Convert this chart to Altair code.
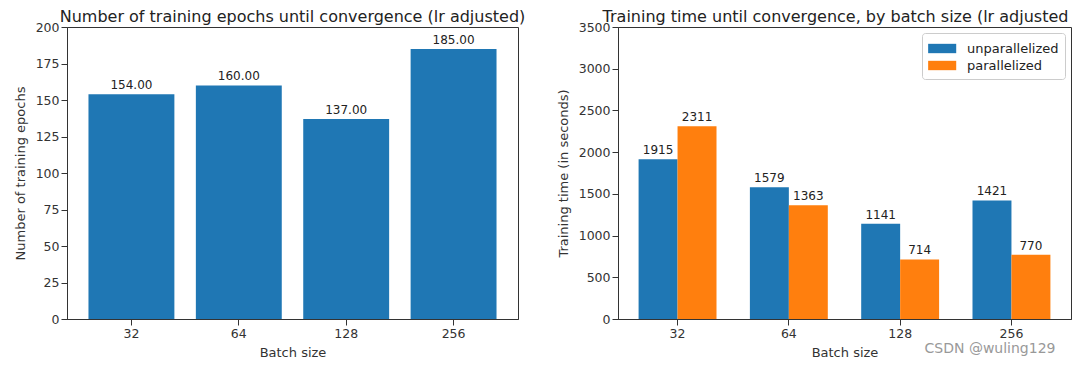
import altair as alt
import pandas as pd

batch = ["32", "64", "128", "256"]
epochs = [154, 160, 137, 185]
series = ["unparallelized", "parallelized"]
unpar_time = [1915, 1579, 1141, 1421]
par_time = [2311, 1363, 714, 770]
colors = ["#1f77b4", "#ff7f0e"]
epoch_ticks = [0, 25, 50, 75, 100, 125, 150, 175, 200]
time_ticks = [0, 500, 1000, 1500, 2000, 2500, 3000, 3500]

df1 = pd.DataFrame({"batch": batch, "epochs": epochs})
rows = []
for b, u, p in zip(batch, unpar_time, par_time):
    rows.append({"batch": b, "series": series[0], "value": u})
    rows.append({"batch": b, "series": series[1], "value": p})
df2 = pd.DataFrame(rows)

FONT = "DejaVu Sans"
ax_common = dict(labelAngle=0, tickSize=6, labelPadding=2, grid=False,
                 labelFontSize=12.5, titleFontSize=13, titleFontWeight="normal")

base1 = alt.Chart(df1).encode(
    x=alt.X("batch:N", sort=batch,
            scale=alt.Scale(paddingInner=0.2, paddingOuter=0.2),
            axis=alt.Axis(title="Batch size", titlePadding=7, **ax_common)),
    y=alt.Y("epochs:Q", scale=alt.Scale(domain=[0, 200], nice=False),
            axis=alt.Axis(title="Number of training epochs", values=epoch_ticks,
                          format="d", titlePadding=8, **ax_common)),
)
bars1 = base1.mark_bar(color=colors[0])
text1 = base1.mark_text(dy=-9, fontSize=12, color="#222", font=FONT).encode(
    text=alt.Text("epochs:Q", format=".2f"))
left = alt.layer(bars1, text1).properties(
    width=451, height=292,
    title=alt.TitleParams("Number of training epochs until convergence (lr adjusted)",
                          fontSize=16, fontWeight="normal", offset=-4, color="#222"))

base2 = alt.Chart(df2).encode(
    x=alt.X("batch:N", sort=batch,
            scale=alt.Scale(paddingInner=0.3, paddingOuter=0.185),
            axis=alt.Axis(title="Batch size", titlePadding=7, **ax_common)),
    xOffset=alt.XOffset("series:N", sort=series,
                        scale=alt.Scale(domain=series, paddingInner=0, paddingOuter=0)),
    y=alt.Y("value:Q", scale=alt.Scale(domain=[0, 3500], nice=False),
            axis=alt.Axis(title="Training time (in seconds)", values=time_ticks,
                          format="d", titlePadding=8, **ax_common)),
)
bars2 = base2.mark_bar().encode(
    color=alt.Color("series:N", sort=series,
                    scale=alt.Scale(domain=series, range=colors),
                    legend=alt.Legend(title=None, orient="top-right", offset=6,
                                      fillColor="white", strokeColor="#ccc",
                                      cornerRadius=3, padding=6,
                                      symbolType="M-1,-0.5H2V0.5H-1Z",
                                      symbolSize=350, symbolStrokeWidth=0,
                                      labelFontSize=13, labelColor="#222",
                                      rowPadding=0, labelOffset=20)))
text2 = base2.mark_text(dy=-9, fontSize=12, color="#222", font=FONT).encode(
    text=alt.Text("value:Q", format="d"))
mark_wm = alt.Chart(pd.DataFrame({"t": ["CSDN @wuling129"]})).mark_text(
    fontSize=14, color="#999", font=FONT, align="center").encode(
    text="t:N", x=alt.value(372), y=alt.value(322))
right = alt.layer(bars2, text2, mark_wm).properties(
    width=453, height=292,
    title=alt.TitleParams("Training time until convergence, by batch size (lr adjusted",
                          fontSize=16, fontWeight="normal", offset=-4, dx=-9, color="#222"))

chart = alt.hconcat(left, right, spacing=30).resolve_scale(
    color="independent"
).resolve_legend(color="independent").properties(
    padding={"left": 5, "top": 0, "right": 0, "bottom": 0}
).configure(font=FONT).configure_view(
    stroke="#333", strokeWidth=1
).configure_axis(
    domainColor="#333", tickColor="#333", labelColor="#333", titleColor="#333",
    labelFont=FONT, titleFont=FONT
).configure_title(font=FONT)

chart.save("out.html", embed_options={"renderer": "svg", "actions": False})
